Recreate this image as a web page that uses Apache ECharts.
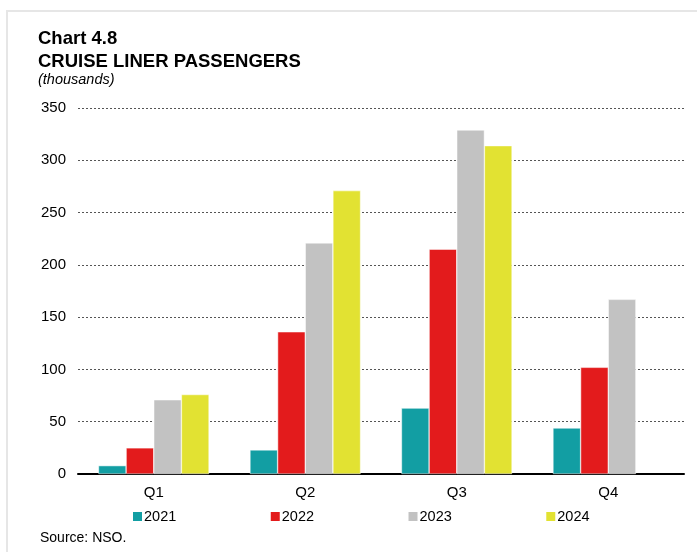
<!DOCTYPE html>
<html>
<head>
<meta charset="utf-8">
<title>Cruise liner passengers</title>
<script src="https://cdn.jsdelivr.net/npm/echarts@6/dist/echarts.min.js"></script>
<style>
  html, body { margin: 0; padding: 0; background: #fff; }
  #main { width: 697px; height: 552px; }
</style>
</head>
<body>
<div id="main"></div>
<script>
// data (thousands)
var quarters = ['Q1', 'Q2', 'Q3', 'Q4'];
var years = ['2021', '2022', '2023', '2024'];
var v2021 = [8, 23, 63, 44];
var v2022 = [25, 136, 215, 102];
var v2023 = [71, 221, 329, 167];
var v2024 = [76, 271, 314, null];
var yTicks = [0, 50, 100, 150, 200, 250, 300, 350];

var colors = ['#129ea3', '#e31b1c', '#c2c2c2', '#e2e232'];
var values = [v2021, v2022, v2023, v2024];
var font = 'Arial, "Liberation Sans", sans-serif';

var chart = echarts.init(document.getElementById('main'));

var series = years.map(function (y, i) {
  return {
    name: y,
    type: 'bar',
    data: values[i],
    barGap: '0%',
    barCategoryGap: '27%',
    itemStyle: { color: colors[i], borderColor: '#fff', borderWidth: 0.5 },
    animation: false
  };
});

chart.setOption({
  backgroundColor: '#fff',
  textStyle: { fontFamily: font },
  graphic: [
    { type: 'rect', shape: { x: 7, y: 11, width: 720, height: 560 },
      style: { fill: 'none', stroke: '#e6e6e6', lineWidth: 2 }, silent: true },
    { type: 'text', left: 38, top: 29,
      style: { text: 'Chart 4.8', font: 'bold 18.5px ' + font, fill: '#000' } },
    { type: 'text', left: 38, top: 52,
      style: { text: 'CRUISE LINER PASSENGERS', font: 'bold 18.5px ' + font, fill: '#000' } },
    { type: 'text', left: 38, top: 72,
      style: { text: '(thousands)', font: 'italic 14.5px ' + font, fill: '#000' } },
    { type: 'text', left: 40, top: 531,
      style: { text: 'Source: NSO.', font: '14px ' + font, fill: '#000' } }
  ],
  legend: {
    data: years,
    left: 128,
    top: 504,
    itemWidth: 9,
    itemHeight: 9,
    itemGap: 94.5,
    icon: 'rect',
    itemStyle: { borderWidth: 0 },
    textStyle: { fontSize: 14.5, color: '#000', padding: [0, 0, 0, -3] }
  },
  grid: { left: 78, right: 13, top: 108, bottom: 78, containLabel: false },
  xAxis: {
    type: 'category',
    data: quarters,
    axisLine: { lineStyle: { color: '#000', width: 2 } },
    axisTick: { show: false },
    axisLabel: { fontSize: 15, color: '#000', margin: 11 }
  },
  yAxis: {
    type: 'value',
    min: yTicks[0],
    max: yTicks[yTicks.length - 1],
    interval: 50,
    axisLine: { show: false },
    axisTick: { show: false },
    axisLabel: { fontSize: 15, color: '#000', margin: 12 },
    splitLine: { lineStyle: { color: '#555', width: 1, type: [2, 2] } }
  },
  series: series
});
</script>
</body>
</html>
